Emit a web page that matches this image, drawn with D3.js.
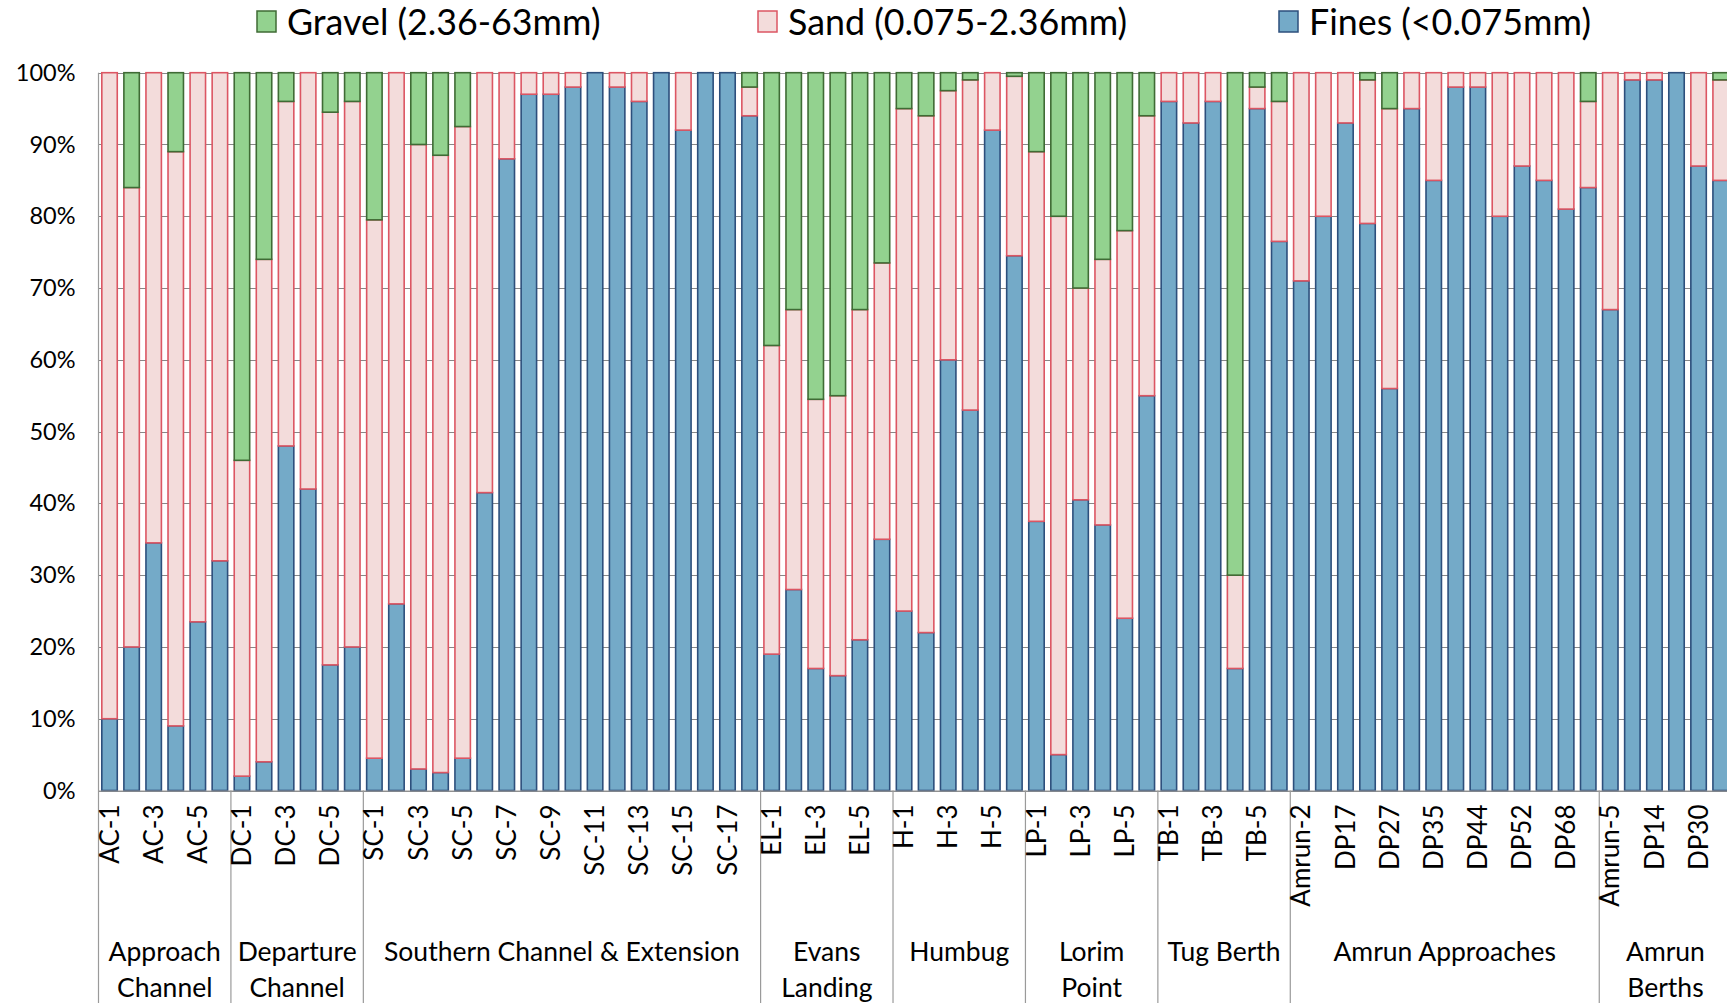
<!DOCTYPE html>
<html>
<head>
<meta charset="utf-8">
<script src="https://cdn.jsdelivr.net/npm/d3@7"></script>
<style>
  html, body { margin: 0; padding: 0; background: #fff; }
  svg { display: block; font-family: Lato, "Open Sans", sans-serif; }
</style>
</head>
<body>
<svg id="chart" width="1727" height="1003"></svg>
<script>
// Sampling sites, in plotting order
const categories = [
  "AC-1","AC-2","AC-3","AC-4","AC-5","AC-6",
  "DC-1","DC-2","DC-3","DC-4","DC-5","DC-6",
  "SC-1","SC-2","SC-3","SC-4","SC-5","SC-6","SC-7","SC-8","SC-9",
  "SC-10","SC-11","SC-12","SC-13","SC-14","SC-15","SC-16","SC-17","SC-18",
  "EL-1","EL-2","EL-3","EL-4","EL-5","EL-6",
  "H-1","H-2","H-3","H-4","H-5","H-6",
  "LP-1","LP-2","LP-3","LP-4","LP-5","LP-6",
  "TB-1","TB-2","TB-3","TB-4","TB-5","TB-6",
  "Amrun-2","DP09","DP17","DP21","DP27","DP31","DP35","DP40","DP44","DP48","DP52","DP60","DP68","DP74",
  "Amrun-5","Amrun-6","DP14","DP22","DP30","DP38"
];

// Site areas: label lines and number of sites in each
const groupLabels = [
  ["Approach", "Channel"], ["Departure", "Channel"], ["Southern Channel & Extension"],
  ["Evans", "Landing"], ["Humbug"], ["Lorim", "Point"], ["Tug Berth"],
  ["Amrun Approaches"], ["Amrun", "Berths"]
];
const groupSizes = [6, 6, 18, 6, 6, 6, 6, 14, 6];

// Particle size fractions (% by mass)
const fines = [
  10, 20, 34.5, 9, 23.5, 32,
  2, 4, 48, 42, 17.5, 20,
  4.5, 26, 3, 2.5, 4.5, 41.5, 88, 97, 97, 98, 100, 98, 96, 100, 92, 100, 100, 94,
  19, 28, 17, 16, 21, 35,
  25, 22, 60, 53, 92, 74.5,
  37.5, 5, 40.5, 37, 24, 55,
  96, 93, 96, 17, 95, 76.5,
  71, 80, 93, 79, 56, 95, 85, 98, 98, 80, 87, 85, 81, 84,
  67, 99, 99, 100, 87, 85
];
const sand = [
  90, 64, 65.5, 80, 76.5, 68,
  44, 70, 48, 58, 77, 76,
  75, 74, 87, 86, 88, 58.5, 12, 3, 3, 2, 0, 2, 4, 0, 8, 0, 0, 4,
  43, 39, 37.5, 39, 46, 38.5,
  70, 72, 37.5, 46, 8, 25,
  51.5, 75, 29.5, 37, 54, 39,
  4, 7, 4, 13, 3, 19.5,
  29, 20, 7, 20, 39, 5, 15, 2, 2, 20, 13, 15, 19, 12,
  33, 1, 1, 0, 13, 14
];
const gravel = [
  0, 16, 0, 11, 0, 0,
  54, 26, 4, 0, 5.5, 4,
  20.5, 0, 10, 11.5, 7.5, 0, 0, 0, 0, 0, 0, 0, 0, 0, 0, 0, 0, 2,
  38, 33, 45.5, 45, 33, 26.5,
  5, 6, 2.5, 1, 0, 0.5,
  11, 20, 30, 26, 22, 6,
  0, 0, 0, 70, 2, 4,
  0, 0, 0, 1, 5, 0, 0, 0, 0, 0, 0, 0, 0, 4,
  0, 0, 0, 0, 0, 1
];

const seriesNames = ["Gravel (2.36-63mm)", "Sand (0.075-2.36mm)", "Fines (<0.075mm)"];
const yTicks = [0, 10, 20, 30, 40, 50, 60, 70, 80, 90, 100];

// Styling
const styles = {
  fines:  { fill: "#74aac8", stroke: "#2d4f7c" },
  sand:   { fill: "#f3dcdb", stroke: "#dc5663" },
  gravel: { fill: "#93d28f", stroke: "#3f6b35" }
};
const keys = ["fines", "sand", "gravel"];

const svg = d3.select("#chart");
const W = 1727, H = 1003;
const plotLeft = 98.5, step = 22.07;
const plotTop = 72.7, plotBottom = 790.5;

const rows = categories.map((c, i) => ({ site: c, fines: fines[i], sand: sand[i], gravel: gravel[i] }));

const x = d3.scaleBand()
  .domain(categories)
  .range([plotLeft, plotLeft + step * categories.length])
  .paddingInner(0.3)
  .paddingOuter(0.15);

const y = d3.scaleLinear().domain([0, 100]).range([plotBottom, plotTop]);

const gridColor = "#878787";
const frameColor = "#9a9a9a";

// Horizontal gridlines
svg.append("g")
  .selectAll("line")
  .data(yTicks)
  .join("line")
  .attr("x1", plotLeft).attr("x2", W)
  .attr("y1", d => Math.round(y(d)) + 0.5).attr("y2", d => Math.round(y(d)) + 0.5)
  .attr("stroke", gridColor)
  .attr("stroke-width", 1);

// Y axis labels
const yAxis = d3.axisLeft(y).tickValues(yTicks).tickFormat(d => d + "%").tickSize(0).tickPadding(0);
const yg = svg.append("g").attr("transform", `translate(${plotLeft - 23},0)`).call(yAxis);
yg.select(".domain").remove();
yg.selectAll("text")
  .attr("font-family", "Lato, sans-serif")
  .attr("font-size", 23.5)
  .attr("fill", "#000");

// Stacked bars
const stack = d3.stack().keys(keys);
const layers = stack(rows);
svg.append("g")
  .selectAll("g")
  .data(layers)
  .join("g")
  .attr("fill", d => styles[d.key].fill)
  .attr("stroke", d => styles[d.key].stroke)
  .attr("stroke-width", 1.6)
  .selectAll("rect")
  .data(d => d.filter(s => s[1] - s[0] > 0))
  .join("rect")
  .attr("x", d => x(d.data.site))
  .attr("width", x.bandwidth())
  .attr("y", d => y(d[1]))
  .attr("height", d => y(d[0]) - y(d[1]));

// Frame: left axis line, baseline and area dividers below the plot
svg.append("line")
  .attr("x1", plotLeft).attr("x2", W)
  .attr("y1", plotBottom + 0.5).attr("y2", plotBottom + 0.5)
  .attr("stroke", frameColor).attr("stroke-width", 1.2);

let acc = 0;
const bounds = [0];
groupSizes.forEach(n => { acc += n; bounds.push(acc); });
const xEdge = i => plotLeft + step * i;

svg.append("line")
  .attr("x1", plotLeft).attr("x2", plotLeft)
  .attr("y1", plotTop).attr("y2", H)
  .attr("stroke", frameColor).attr("stroke-width", 1.2);

svg.append("g")
  .selectAll("line")
  .data(bounds.slice(1))
  .join("line")
  .attr("x1", d => xEdge(d)).attr("x2", d => xEdge(d))
  .attr("y1", plotBottom).attr("y2", H)
  .attr("stroke", frameColor).attr("stroke-width", 1.2);

// Site labels (every second site)
const xAxis = d3.axisBottom(x)
  .tickValues(categories.filter((c, i) => i % 2 === 0))
  .tickSize(0).tickPadding(0);
const xg = svg.append("g").attr("transform", `translate(0,${plotBottom})`).call(xAxis);
xg.select(".domain").remove();
xg.selectAll("text")
  .attr("font-family", "Lato, sans-serif")
  .attr("font-size", 26)
  .attr("fill", "#000")
  .attr("transform", "rotate(-90)")
  .attr("text-anchor", "end")
  .attr("x", -14)
  .attr("y", 0)
  .attr("dy", "0.35em");

// Area labels
const gl = svg.append("g")
  .attr("font-family", "Lato, sans-serif")
  .attr("font-size", 26.5)
  .attr("fill", "#000")
  .attr("text-anchor", "middle");
groupLabels.forEach((lines, g) => {
  const cx = (xEdge(bounds[g]) + xEdge(bounds[g + 1])) / 2;
  lines.forEach((t, k) => {
    gl.append("text")
      .attr("x", cx)
      .attr("y", 952 + k * 35.5)
      .attr("dy", "0.35em")
      .text(t);
  });
});

// Legend
const legendX = [257, 758, 1279];
const legendKeys = ["gravel", "sand", "fines"];
const lg = svg.append("g");
seriesNames.forEach((name, i) => {
  const k = legendKeys[i];
  lg.append("rect")
    .attr("x", legendX[i]).attr("y", 11)
    .attr("width", 19).attr("height", 21)
    .attr("fill", styles[k].fill)
    .attr("stroke", styles[k].stroke)
    .attr("stroke-width", 1.5);
  lg.append("text")
    .attr("x", legendX[i] + 30).attr("y", 22)
    .attr("dy", "0.35em")
    .attr("font-family", "Lato, sans-serif")
    .attr("font-size", 35.8)
    .attr("fill", "#000")
    .text(name);
});
</script>
</body>
</html>
